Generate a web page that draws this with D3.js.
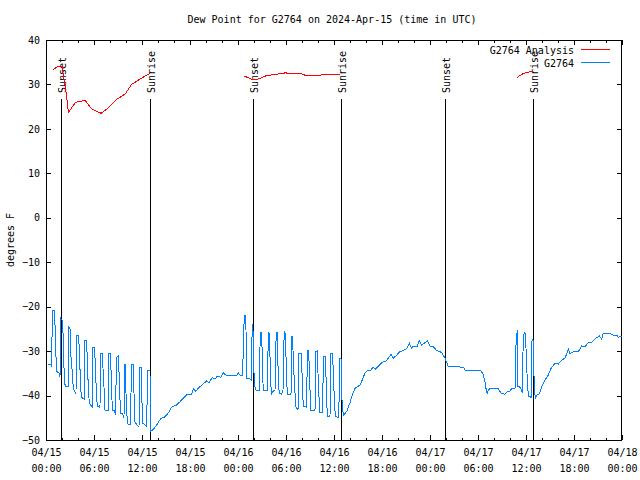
<!DOCTYPE html>
<html><head><meta charset="utf-8">
<script src="https://cdn.jsdelivr.net/npm/d3@7"></script>
<style>
body{margin:0;background:#fff;}
svg{display:block;}
text{font-family:"DejaVu Sans Mono","Liberation Mono",monospace;font-size:10px;fill:#000;}
</style></head>
<body>
<svg id="c" width="640" height="480"></svg>
<script>
// ---- data (hours after 2024-04-15 00:00 UTC, degrees F) ----
const titleText = "Dew Point for G2764 on 2024-Apr-15 (time in UTC)";
const yLabel = "degrees F";
const yTicks = [40,30,20,10,0,-10,-20,-30,-40,-50];
const sunEvents = [
  {h:1.92, label:"Sunset"},{h:13.04, label:"Sunrise"},
  {h:25.91, label:"Sunset"},{h:36.91, label:"Sunrise"},
  {h:49.91, label:"Sunset"},{h:60.91, label:"Sunrise"}
];
const analysis1 = [[0.8,33.2],[1.4,34.0],[2.0,34.1],[2.5,28.4],[2.8,23.7],[3.7,26.0],[4.25,26.2],[4.9,26.4],[5.7,24.5],[6.3,24.0],[6.9,23.5],[7.9,24.9],[8.8,26.6],[9.9,27.85],[10.7,30.0],[11.75,31.2],[13.0,32.5]];
const analysis2 = [[24.75,31.9],[25.3,31.5],[25.7,31.15],[26.5,31.2],[27.5,31.95],[29.25,32.4],[29.9,32.6],[31.1,32.4],[32.0,32.35],[32.6,31.9],[34.0,31.95],[34.7,32.3],[36.75,32.3]];
const analysis3 = [[58.9,31.6],[59.5,32.3],[60.1,32.7],[60.9,33.0]];
const observed = [
 [0.29,-32.9],[0.63,-33.1],[0.71,-33.5],[0.79,-20.75],[1.09,-20.75],[1.13,-24.35],[1.25,-31.3],[1.34,-34.6],[1.63,-34.9],[1.75,-35.8],
 [1.84,-22.6],[2.04,-23.2],[2.16,-26.8],[2.25,-33.8],[2.375,-37.5],[2.5,-38.0],[2.84,-38.0],[2.85,-24.6],[3.04,-25.1],[3.125,-31.3],
 [3.29,-35.0],[3.41,-38.4],[3.75,-39.7],[3.79,-26.4],[4.09,-26.4],[4.16,-30.0],[4.29,-35.8],[4.41,-40.4],[4.79,-40.8],[4.84,-27.7],
 [5.09,-27.7],[5.16,-32.4],[5.29,-38.0],[5.41,-41.7],[5.79,-42.6],[5.84,-29.1],[6.09,-29.1],[6.16,-33.6],[6.29,-38.75],[6.41,-42.5],
 [6.75,-42.6],[6.79,-30.5],[7.09,-30.5],[7.125,-33.9],[7.29,-39.5],[7.375,-43.25],[7.79,-43.25],[7.8,-30.5],[8.04,-30.5],[8.125,-34.25],
 [8.29,-43.25],[8.54,-43.4],[8.71,-44.4],[8.79,-31.5],[9.04,-31.1],[9.125,-34.6],[9.25,-41.0],[9.34,-44.0],[9.59,-44.15],[9.75,-45.1],
 [9.79,-32.9],[9.96,-32.9],[10.0,-39.5],[10.16,-45.9],[10.29,-46.5],[10.59,-46.5],[10.66,-32.9],[10.91,-32.9],[11.0,-39.5],[11.125,-45.9],
 [11.34,-46.6],[11.625,-47.0],[11.75,-33.6],[11.91,-33.6],[11.96,-39.5],[12.09,-46.2],[12.59,-47.0],[12.66,-37.6],[12.75,-34.25],[13.0,-34.25],
 [13.01,-41.0],[13.04,-48.1],
 [13.41,-47.6],[13.84,-46.6],[14.375,-45.1],[14.79,-44.9],[15.29,-43.9],[15.71,-42.6],[16.34,-42.1],[16.75,-41.4],[17.16,-40.6],[17.66,-39.65],
 [18.21,-39.65],[18.41,-38.5],[18.71,-39.0],[19.25,-38.0],[19.75,-37.2],[20.09,-36.7],[20.375,-37.1],[20.79,-35.9],[21.125,-36.3],[21.41,-35.6],
 [21.84,-35.9],[22.16,-34.9],[22.5,-35.4],[23.84,-35.4],[24.04,-34.9],[24.25,-35.4],[24.59,-35.4],
 [24.66,-28.6],[24.79,-21.9],[24.96,-21.9],[25.0,-25.25],[25.09,-36.1],[25.34,-36.1],[25.66,-36.5],[25.71,-30.1],[25.79,-24.0],[25.875,-25.25],
 [26.0,-35.0],[26.125,-38.0],[26.25,-38.75],[26.66,-38.75],[26.75,-29.0],[26.84,-25.8],[26.96,-25.8],[27.0,-29.0],[27.09,-35.75],[27.16,-38.75],
 [27.66,-38.75],[27.75,-30.1],[27.84,-25.8],[27.96,-26.4],[28.0,-31.25],[28.09,-36.5],[28.16,-39.7],[28.34,-39.1],[28.625,-38.75],[28.71,-29.75],
 [28.79,-25.8],[28.91,-25.8],[28.96,-30.1],[29.04,-36.5],[29.16,-39.5],[29.46,-39.7],[29.625,-38.75],[29.75,-27.5],[29.84,-25.8],[29.96,-26.2],
 [30.0,-31.25],[30.09,-36.5],[30.16,-39.7],[30.625,-39.7],[30.71,-26.75],[30.84,-26.75],[30.91,-32.75],[31.09,-38.0],[31.21,-42.5],[31.46,-43.1],
 [31.59,-42.9],[31.625,-30.5],[31.91,-30.5],[32.04,-36.9],[32.16,-42.5],[32.59,-42.6],[32.66,-29.9],[32.84,-29.9],[32.91,-34.25],[33.0,-38.75],
 [33.09,-43.25],[33.625,-43.25],[33.71,-30.1],[33.91,-29.9],[34.0,-35.0],[34.21,-43.9],[34.59,-43.9],[34.66,-31.25],[34.91,-31.25],[35.0,-35.75],
 [35.16,-44.6],[35.5,-44.6],[35.59,-30.5],[35.84,-30.5],[35.91,-35.75],[36.16,-44.6],[36.59,-45.0],[36.66,-38.0],[36.75,-31.6],[36.875,-31.6],
 [36.91,-35.0],[37.0,-41.0],[37.16,-44.4],[37.375,-44.0],[37.59,-43.6],[37.79,-42.5],[38.0,-41.75],[38.21,-40.25],[38.625,-38.4],[39.25,-37.6],
 [39.59,-36.3],[39.875,-34.9],[40.29,-34.25],[40.5,-34.5],[40.91,-33.6],[41.21,-34.1],[41.54,-33.35],[41.96,-32.6],[42.5,-32.2],[42.79,-31.6],
 [43.125,-30.7],[43.41,-31.6],[43.84,-30.9],[44.25,-30.1],[44.59,-29.9],[45.09,-29.4],[45.41,-28.2],[45.71,-29.4],[45.91,-28.85],[46.41,-28.85],
 [46.66,-27.7],[46.96,-28.6],[47.375,-28.1],[47.66,-27.7],[48.0,-28.85],[48.41,-29.0],[48.84,-29.9],[49.46,-30.3],[49.875,-31.6],[50.29,-33.5],
 [52.16,-33.6],[52.375,-34.25],[54.25,-34.25],[54.59,-35.0],[54.875,-36.9],[55.0,-38.4],[55.16,-39.7],[55.29,-38.75],[55.5,-38.4],[56.54,-38.4],
 [56.84,-39.4],[57.375,-39.7],[57.66,-39.1],[58.0,-39.0],[58.21,-38.4],[58.625,-38.4],[58.75,-28.6],[58.91,-25.25],[58.96,-38.0],[59.16,-38.0],
 [59.34,-38.4],[59.54,-39.5],[59.66,-26.4],[59.875,-25.8],[60.0,-29.4],[60.16,-36.5],[60.29,-40.1],[60.66,-40.4],[60.71,-27.9],[60.875,-27.3],
 [60.91,-30.5],[61.04,-37.6],[61.16,-40.8],[61.34,-39.9],[61.66,-39.65],[61.96,-38.0],[62.375,-36.5],[62.79,-35.4],[63.125,-33.9],[63.625,-32.7],
 [64.04,-32.9],[64.46,-32.0],[64.875,-31.6],[65.29,-29.6],[65.5,-30.65],[65.91,-30.1],[66.54,-30.1],[66.96,-28.85],[67.375,-29.0],[67.79,-28.1],
 [68.21,-28.1],[68.5,-27.5],[68.75,-27.1],[69.16,-26.6],[69.46,-27.3],[69.66,-26.0],[70.41,-26.0],[70.91,-26.4],[71.34,-26.4],[71.54,-26.9],[71.96,-26.6]
];
const legendNames = ["G2764 Analysis","G2764"];
const colors = {analysis:"#ff0000", obs:"#0080ff"};

// ---- drawing ----
const svg = d3.select("#c");
const t0 = Date.UTC(2024,3,15);
const toDate = h => new Date(t0 + h*3600e3);
const L=46,R=622,T=40,B=440;
const x = d3.scaleUtc().domain([toDate(0), toDate(72)]).range([L,R]);
const y = d3.scaleLinear().domain([-50,40]).range([B,T]);

svg.append("rect").attr("width",640).attr("height",480).attr("fill","#fff");

// axes
const major = d3.utcHour.every(6), minor = d3.utcHour.every(2);
const gB = svg.append("g").attr("transform",`translate(0,${B})`)
  .call(d3.axisBottom(x).ticks(major).tickSizeInner(-5).tickSizeOuter(0).tickPadding(9).tickFormat(d3.utcFormat("%m/%d")));
gB.selectAll(".tick text").each(function(d){
  const t = d3.select(this);
  t.attr("y",9).attr("dy","0.71em");
  t.append("tspan").attr("x",0).attr("dy","1.55em").text(d3.utcFormat("%H:%M")(d));
});
svg.append("g").attr("transform",`translate(0,${B})`)
  .call(d3.axisBottom(x).ticks(minor).tickSizeInner(-2.5).tickSizeOuter(0).tickFormat(""));
svg.append("g").attr("transform",`translate(0,${T})`)
  .call(d3.axisTop(x).ticks(major).tickSizeInner(-5).tickSizeOuter(0).tickFormat(""));
svg.append("g").attr("transform",`translate(0,${T})`)
  .call(d3.axisTop(x).ticks(minor).tickSizeInner(-2.5).tickSizeOuter(0).tickFormat(""));
svg.append("g").attr("transform",`translate(${L},0)`)
  .call(d3.axisLeft(y).tickValues(yTicks).tickSizeInner(-5).tickSizeOuter(0).tickPadding(6).tickFormat(d3.format("d")));
svg.append("g").attr("transform",`translate(${R},0)`)
  .call(d3.axisRight(y).tickValues(yTicks).tickSizeInner(-5).tickSizeOuter(0).tickFormat(""));
svg.selectAll(".domain").remove();
svg.selectAll(".tick line").attr("stroke","#000").attr("shape-rendering","crispEdges");
svg.selectAll(".tick text").attr("font-family",null).attr("font-size",null).attr("fill","#000");

// frame
svg.append("rect").attr("x",L+0.5).attr("y",T+0.5).attr("width",R-L-1).attr("height",B-T)
  .attr("fill","none").attr("stroke","#000").attr("shape-rendering","crispEdges");

// sun events
const sg = svg.append("g").selectAll("g").data(sunEvents).join("g");
sg.append("line").attr("x1",d=>Math.round(x(toDate(d.h)))+0.5).attr("x2",d=>Math.round(x(toDate(d.h)))+0.5)
  .attr("y1",99).attr("y2",B).attr("stroke","#000").attr("shape-rendering","crispEdges");
sg.append("text").attr("transform",d=>`translate(${Math.round(x(toDate(d.h)))+5},93) rotate(-90)`)
  .text(d=>d.label);

// lines
const line = d3.line().x(d=>x(toDate(d[0]))).y(d=>y(d[1]));
[analysis1,analysis2,analysis3].forEach(seg=>{
  svg.append("path").datum(seg).attr("d",line).attr("fill","none").attr("stroke",colors.analysis)
    .attr("stroke-width",1).attr("shape-rendering","crispEdges");
});
svg.append("path").datum(observed).attr("d",line).attr("fill","none").attr("stroke",colors.obs)
  .attr("stroke-width",1).attr("shape-rendering","crispEdges");

// title & labels
svg.append("text").attr("x",332).attr("y",23).attr("text-anchor","middle").text(titleText);
svg.append("text").attr("transform","translate(14,240) rotate(-90)").attr("text-anchor","middle").text(yLabel);

// legend
const lg = svg.append("g");
[[legendNames[0],colors.analysis,49.5],[legendNames[1],colors.obs,62.5]].forEach(([n,c,yy])=>{
  lg.append("text").attr("x",574).attr("y",yy+4).attr("text-anchor","end").text(n);
  lg.append("line").attr("x1",581).attr("x2",610).attr("y1",yy).attr("y2",yy).attr("stroke",c).attr("shape-rendering","crispEdges");
});
</script>
</body></html>
